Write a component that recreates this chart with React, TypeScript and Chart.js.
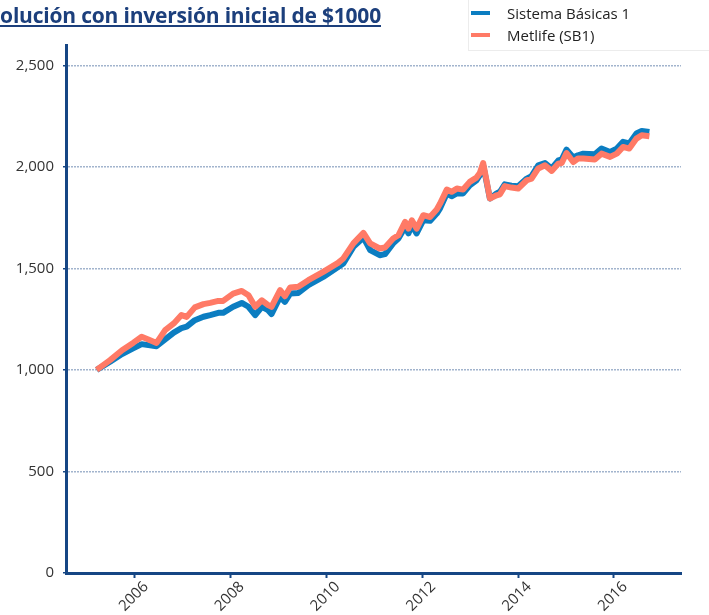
import React, { useEffect, useRef } from "react";
import { Chart, registerables } from "chart.js";

Chart.register(...registerables);

const TITLE = "Evolución con inversión inicial de $1000";
const SERIES_NAMES = ["Sistema Básicas 1", "Metlife (SB1)"];
const COLORS = ["#0b7dc1", "#ff7a66"];

// decimal years
const years = [
  2005.2, 2005.48, 2005.73, 2005.96, 2006.14, 2006.28, 2006.45, 2006.63, 2006.81, 2006.97,
  2007.08, 2007.25, 2007.43, 2007.57, 2007.74, 2007.84, 2008.05, 2008.23, 2008.37, 2008.51,
  2008.65, 2008.78, 2008.85, 2009.03, 2009.13, 2009.24, 2009.41, 2009.62, 2009.93, 2010.24,
  2010.35, 2010.56, 2010.77, 2010.91, 2011.11, 2011.22, 2011.39, 2011.5, 2011.64, 2011.71,
  2011.78, 2011.88, 2012.02, 2012.16, 2012.3, 2012.37, 2012.51, 2012.61, 2012.72, 2012.85,
  2012.99, 2013.13, 2013.2, 2013.27, 2013.41, 2013.55, 2013.62, 2013.72, 2013.86, 2014.0,
  2014.18, 2014.28, 2014.42, 2014.56, 2014.7, 2014.84, 2014.91, 2015.01, 2015.15, 2015.25,
  2015.36, 2015.6, 2015.74, 2015.92, 2016.06, 2016.19, 2016.32, 2016.47, 2016.58, 2016.74,
];

const sistemaBasicas = [
  1000, 1040, 1078, 1106, 1127, 1122, 1117, 1150, 1184, 1206,
  1213, 1245, 1262, 1270, 1281, 1281, 1311, 1330, 1311, 1270,
  1311, 1294, 1275, 1360, 1335, 1376, 1379, 1417, 1458, 1507,
  1524, 1606, 1652, 1590, 1565, 1570, 1623, 1647, 1704, 1672,
  1713, 1672, 1737, 1734, 1770, 1796, 1869, 1855, 1869, 1869,
  1909, 1934, 1959, 2008, 1844, 1869, 1877, 1914, 1907, 1905,
  1942, 1954, 2008, 2019, 1992, 2032, 2036, 2085, 2046, 2057,
  2065, 2062, 2090, 2073, 2090, 2123, 2115, 2164, 2177, 2172,
];

const metlife = [
  1000, 1048, 1097, 1133, 1163, 1150, 1133, 1196, 1229, 1270,
  1261, 1308, 1324, 1330, 1340, 1340, 1376, 1389, 1368, 1311,
  1343, 1319, 1311, 1393, 1363, 1406, 1409, 1442, 1483, 1527,
  1549, 1623, 1675, 1623, 1598, 1603, 1647, 1663, 1729, 1696,
  1737, 1696, 1762, 1753, 1790, 1819, 1888, 1877, 1893, 1888,
  1926, 1947, 1970, 2019, 1844, 1860, 1865, 1905, 1898, 1893,
  1934, 1942, 1992, 2008, 1980, 2016, 2019, 2068, 2024, 2041,
  2041, 2036, 2065, 2049, 2065, 2098, 2090, 2139, 2156, 2151,
];

const xTicks = [2006, 2008, 2010, 2012, 2014, 2016];
const yTicks = [0, 500, 1000, 1500, 2000, 2500];

const AXIS_COLOR = "#164684";
const GRID_COLOR = "#a2b4cd";
const FONT = "'Open Sans', 'DejaVu Sans', sans-serif";

export default function App() {
  const canvasRef = useRef<HTMLCanvasElement | null>(null);

  useEffect(() => {
    const ctx = canvasRef.current!.getContext("2d")!;
    const chart = new Chart(ctx, {
      type: "line",
      data: {
        datasets: [
          {
            label: SERIES_NAMES[1],
            data: years.map((x, i) => ({ x, y: metlife[i] })),
            borderColor: COLORS[1],
            backgroundColor: COLORS[1],
            borderWidth: 6,
            pointRadius: 0,
            tension: 0,
            borderJoinStyle: "round",
            borderCapStyle: "butt",
            order: 0,
          },
          {
            label: SERIES_NAMES[0],
            data: years.map((x, i) => ({ x, y: sistemaBasicas[i] })),
            borderColor: COLORS[0],
            backgroundColor: COLORS[0],
            borderWidth: 6,
            pointRadius: 0,
            tension: 0,
            borderJoinStyle: "round",
            borderCapStyle: "butt",
            order: 1,
          },
        ],
      },
      options: {
        animation: false,
        responsive: false,
        maintainAspectRatio: false,
        locale: "en-US",
        layout: { padding: { top: 45, right: 28, left: 0, bottom: 0 } },
        plugins: { legend: { display: false }, tooltip: { enabled: false }, title: { display: false } },
        scales: {
          x: {
            type: "linear",
            min: 2004.56,
            max: 2017.4,
            afterBuildTicks: (scale: any) => {
              scale.ticks = xTicks.map((v) => ({ value: v }));
            },
            afterFit: (scale: any) => {
              scale.height = 42;
            },
            border: { display: true, color: AXIS_COLOR, width: 3 },
            grid: {
              drawOnChartArea: false,
              drawTicks: true,
              tickLength: 5,
              tickColor: AXIS_COLOR,
              tickWidth: 2,
            },
            ticks: {
              autoSkip: false,
              minRotation: 45,
              maxRotation: 45,
              padding: 0,
              labelOffset: 11,
              color: "#333333",
              font: { family: FONT, size: 15 },
              callback: (v: any) => String(v),
            },
          },
          y: {
            type: "linear",
            min: 0,
            max: 2600,
            afterBuildTicks: (scale: any) => {
              scale.ticks = yTicks.map((v) => ({ value: v }));
            },
            afterFit: (scale: any) => {
              scale.width = 66;
            },
            border: { display: true, color: AXIS_COLOR, width: 3, dash: [2, 1] },
            grid: {
              drawOnChartArea: true,
              color: (c: any) => (c.tick && c.tick.value === 0 ? "rgba(0,0,0,0)" : GRID_COLOR),
              lineWidth: 1.5,
              drawTicks: true,
              tickLength: 3,
              tickColor: AXIS_COLOR,
              tickBorderDash: [],
            },
            ticks: {
              padding: 9,
              color: "#333333",
              font: { family: FONT, size: 15 },
              callback: (v: any) => Number(v).toLocaleString("en-US"),
            },
          },
        },
      } as any,
    });
    return () => chart.destroy();
  }, []);

  return (
    <div style={{ position: "fixed", left: 0, top: 0, width: 709, height: 615, background: "#fff", overflow: "hidden" }}>
      <canvas ref={canvasRef} width={709} height={615} style={{ position: "absolute", left: 0, top: 0, width: 709, height: 615 }} />
      <div
        style={{
          position: "absolute",
          right: 709 - 381,
          top: 1,
          whiteSpace: "nowrap",
          fontFamily: FONT,
          fontWeight: 700,
          fontSize: 21,
          color: "#1c3f7c",
          textDecoration: "underline",
          letterSpacing: -0.2,
        }}
      >
        {TITLE}
      </div>
      <div
        style={{
          position: "absolute",
          left: 468,
          top: -1,
          width: 260,
          height: 50,
          border: "1px solid #ececec",
          fontFamily: FONT,
          fontSize: 15,
          color: "#222",
        }}
      >
        {SERIES_NAMES.map((name, i) => (
          <div key={name} style={{ position: "absolute", left: 2, top: 3 + i * 22, height: 20, display: "flex", alignItems: "center" }}>
            <span style={{ display: "inline-block", width: 19, height: 4, background: COLORS[i], marginRight: 17 }} />
            <span>{name}</span>
          </div>
        ))}
      </div>
    </div>
  );
}
